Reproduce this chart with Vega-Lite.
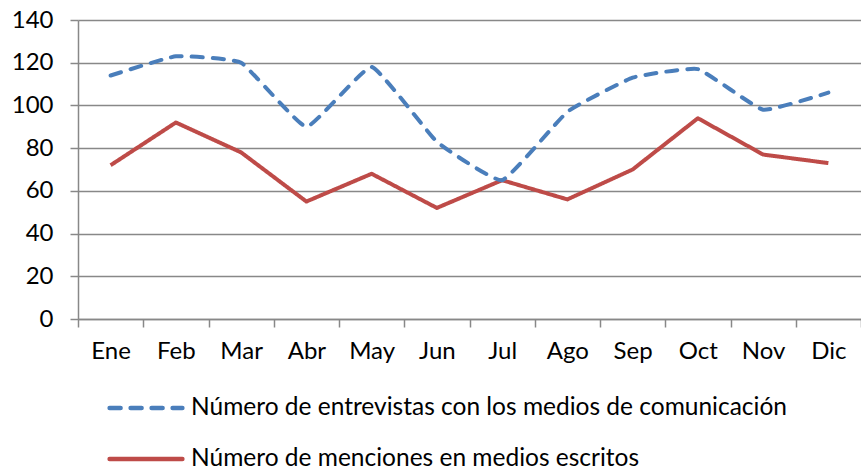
{
  "$schema": "https://vega.github.io/schema/vega-lite/v6.json",
  "width": 783,
  "height": 299,
  "autosize": {"type": "none"},
  "padding": {"left": 78, "top": 20, "right": 0, "bottom": 148},
  "background": "white",
  "data": {"values": [
    {"mes": "Ene", "serie": "Número de entrevistas con los medios de comunicación", "valor": 114},
    {"mes": "Feb", "serie": "Número de entrevistas con los medios de comunicación", "valor": 123},
    {"mes": "Mar", "serie": "Número de entrevistas con los medios de comunicación", "valor": 120},
    {"mes": "Abr", "serie": "Número de entrevistas con los medios de comunicación", "valor": 90},
    {"mes": "May", "serie": "Número de entrevistas con los medios de comunicación", "valor": 118},
    {"mes": "Jun", "serie": "Número de entrevistas con los medios de comunicación", "valor": 83},
    {"mes": "Jul", "serie": "Número de entrevistas con los medios de comunicación", "valor": 65},
    {"mes": "Ago", "serie": "Número de entrevistas con los medios de comunicación", "valor": 97},
    {"mes": "Sep", "serie": "Número de entrevistas con los medios de comunicación", "valor": 113},
    {"mes": "Oct", "serie": "Número de entrevistas con los medios de comunicación", "valor": 117},
    {"mes": "Nov", "serie": "Número de entrevistas con los medios de comunicación", "valor": 98},
    {"mes": "Dic", "serie": "Número de entrevistas con los medios de comunicación", "valor": 106},
    {"mes": "Ene", "serie": "Número de menciones en medios escritos", "valor": 72},
    {"mes": "Feb", "serie": "Número de menciones en medios escritos", "valor": 92},
    {"mes": "Mar", "serie": "Número de menciones en medios escritos", "valor": 78},
    {"mes": "Abr", "serie": "Número de menciones en medios escritos", "valor": 55},
    {"mes": "May", "serie": "Número de menciones en medios escritos", "valor": 68},
    {"mes": "Jun", "serie": "Número de menciones en medios escritos", "valor": 52},
    {"mes": "Jul", "serie": "Número de menciones en medios escritos", "valor": 65},
    {"mes": "Ago", "serie": "Número de menciones en medios escritos", "valor": 56},
    {"mes": "Sep", "serie": "Número de menciones en medios escritos", "valor": 70},
    {"mes": "Oct", "serie": "Número de menciones en medios escritos", "valor": 94},
    {"mes": "Nov", "serie": "Número de menciones en medios escritos", "valor": 77},
    {"mes": "Dic", "serie": "Número de menciones en medios escritos", "valor": 73}
  ]},
  "config": {
    "view": {"stroke": null},
    "font": "Lato",
    "axis": {"labelFont": "Lato", "labelColor": "#000000", "labelFontSize": 24, "domainColor": "#888888", "tickColor": "#888888", "gridColor": "#888888", "domainWidth": 1.5, "tickWidth": 1.5, "gridWidth": 1.5, "tickSize": 8}
  },
  "layer": [
    {
      "mark": {"type": "line", "strokeWidth": 4, "strokeCap": "butt", "strokeJoin": "round"},
      "transform": [{"filter": "datum.serie == 'Número de menciones en medios escritos'"}],
      "encoding": {
        "x": {"field": "mes", "type": "ordinal", "sort": ["Ene","Feb","Mar","Abr","May","Jun","Jul","Ago","Sep","Oct","Nov","Dic"],
              "scale": {"type": "band", "paddingInner": 0, "paddingOuter": 0},
              "axis": {"title": null, "tickBand": "extent", "labelAngle": 0, "labelPadding": 12, "grid": false}},
        "y": {"field": "valor", "type": "quantitative", "scale": {"domain": [0, 140], "nice": false},
              "axis": {"title": null, "values": [0,20,40,60,80,100,120,140], "labelPadding": 17, "grid": true}},
        "color": {"field": "serie", "type": "nominal",
                  "scale": {"domain": ["Número de entrevistas con los medios de comunicación", "Número de menciones en medios escritos"], "range": ["#4A7EBB", "#BE4B48"]},
                  "legend": {"orient": "none", "legendX": 29, "legendY": 349, "title": null, "labelFont": "Lato", "labelFontSize": 24.5, "labelLimit": 0, "labelColor": "#000000", "symbolType": "stroke", "symbolSize": 5300, "symbolStrokeWidth": 4.5, "rowPadding": -26, "labelOffset": 6,
                             "encode": {"symbols": {"update": {"strokeCap": {"value": "round"}}}}}},
        "strokeDash": {"field": "serie", "type": "nominal",
                  "scale": {"domain": ["Número de entrevistas con los medios de comunicación", "Número de menciones en medios escritos"], "range": [[11, 10], [1, 0]]},
                  "legend": null}
      }
    },
    {
      "mark": {"type": "line", "strokeWidth": 4, "interpolate": "cardinal", "tension": 0.65, "strokeCap": "round"},
      "transform": [{"filter": "datum.serie == 'Número de entrevistas con los medios de comunicación'"}],
      "encoding": {
        "x": {"field": "mes", "type": "ordinal", "sort": ["Ene","Feb","Mar","Abr","May","Jun","Jul","Ago","Sep","Oct","Nov","Dic"]},
        "y": {"field": "valor", "type": "quantitative"},
        "color": {"field": "serie", "type": "nominal"},
        "strokeDash": {"field": "serie", "type": "nominal"}
      }
    }
  ]
}
